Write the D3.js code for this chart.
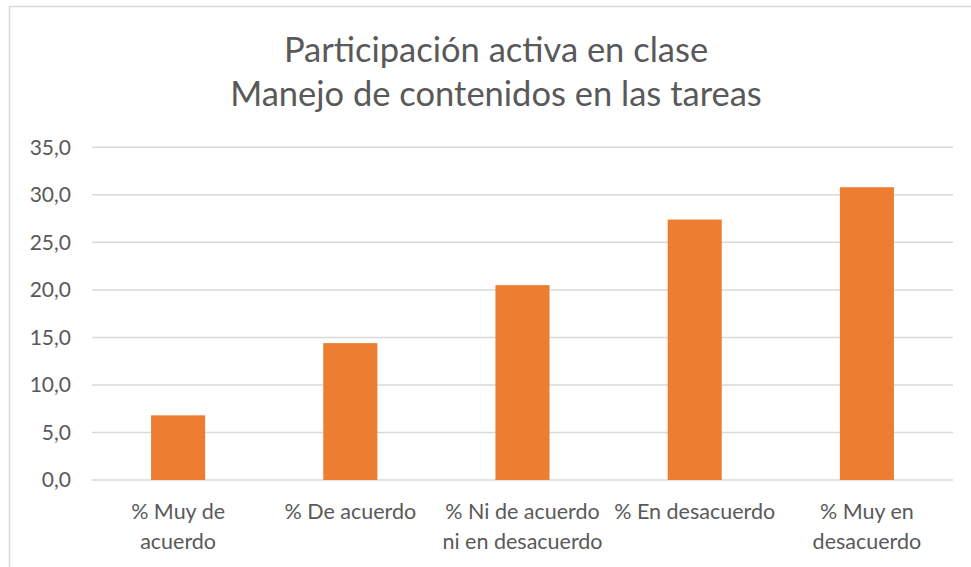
<!DOCTYPE html>
<html>
<head>
<meta charset="utf-8">
<script src="https://cdn.jsdelivr.net/npm/d3@7"></script>
<style>
  html, body { margin: 0; padding: 0; background: #fff; }
  svg { display: block; }
  text { font-family: Lato, "Open Sans", sans-serif; }
</style>
</head>
<body>
<svg id="chart" width="971" height="567"></svg>
<script>
const titleLines = ["Participación activa en clase", "Manejo de contenidos en las tareas"];
const categories = ["% Muy de acuerdo", "% De acuerdo", "% Ni de acuerdo ni en desacuerdo", "% En desacuerdo", "% Muy en desacuerdo"];
const categoryLines = [["% Muy de", "acuerdo"], ["% De acuerdo"], ["% Ni de acuerdo", "ni en desacuerdo"], ["% En desacuerdo"], ["% Muy en", "desacuerdo"]];
const values = [6.8, 14.4, 20.5, 27.4, 30.8];
const yTicks = [0, 5, 10, 15, 20, 25, 30, 35];

const svg = d3.select("#chart");
const W = 971, H = 567;
const margin = { left: 92, right: 18, top: 147.3, bottom: 87 };

// chart border
svg.append("rect").attr("x", 9.5).attr("y", 6.5).attr("width", W + 10).attr("height", H + 10)
  .attr("fill", "#fff").attr("stroke", "#d9d9d9").attr("stroke-width", 1.5);

const x = d3.scaleBand().domain(categories).range([margin.left, W - margin.right])
  .paddingInner(0.686).paddingOuter(0.343);
const y = d3.scaleLinear().domain([0, 35]).range([480, margin.top]);

// gridlines
svg.append("g").selectAll("line").data(yTicks).join("line")
  .attr("x1", margin.left).attr("x2", W - margin.right)
  .attr("y1", d => y(d)).attr("y2", d => y(d))
  .attr("stroke", "#d9d9d9").attr("stroke-width", 1.5);

// y axis labels
const yAxis = d3.axisLeft(y).tickValues(yTicks).tickSize(0).tickPadding(0)
  .tickFormat(d => d3.format(".1f")(d).replace(".", ","));
const yg = svg.append("g").attr("transform", "translate(71,0)").call(yAxis);
yg.select(".domain").remove();
yg.selectAll("text").attr("fill", "#595959").style("font-size", "21px")
  .style("font-family", "Lato, 'Open Sans', sans-serif");

// bars
svg.append("g").selectAll("rect").data(values).join("rect")
  .attr("x", (d, i) => x(categories[i]))
  .attr("width", x.bandwidth())
  .attr("y", d => y(d))
  .attr("height", d => y(0) - y(d))
  .attr("fill", "#ed7d31");

// x axis labels
const xAxis = d3.axisBottom(x).tickSize(0).tickFormat("");
const xg = svg.append("g").attr("transform", "translate(0,480)").call(xAxis);
xg.select(".domain").remove();
xg.selectAll(".tick").each(function(d, i) {
  const t = d3.select(this).append("text")
    .attr("text-anchor", "middle").attr("fill", "#595959")
    .style("font-size", "21.5px");
  categoryLines[i].forEach((ln, j) => {
    t.append("tspan").attr("x", 0).attr("y", 39 + j * 30).text(ln);
  });
});

// title
const title = svg.append("text").attr("text-anchor", "middle").attr("fill", "#595959")
  .style("font-size", "34.5px");
titleLines.forEach((ln, j) => {
  title.append("tspan").attr("x", 496).attr("y", 62 + j * 44).text(ln);
});
</script>
</body>
</html>
